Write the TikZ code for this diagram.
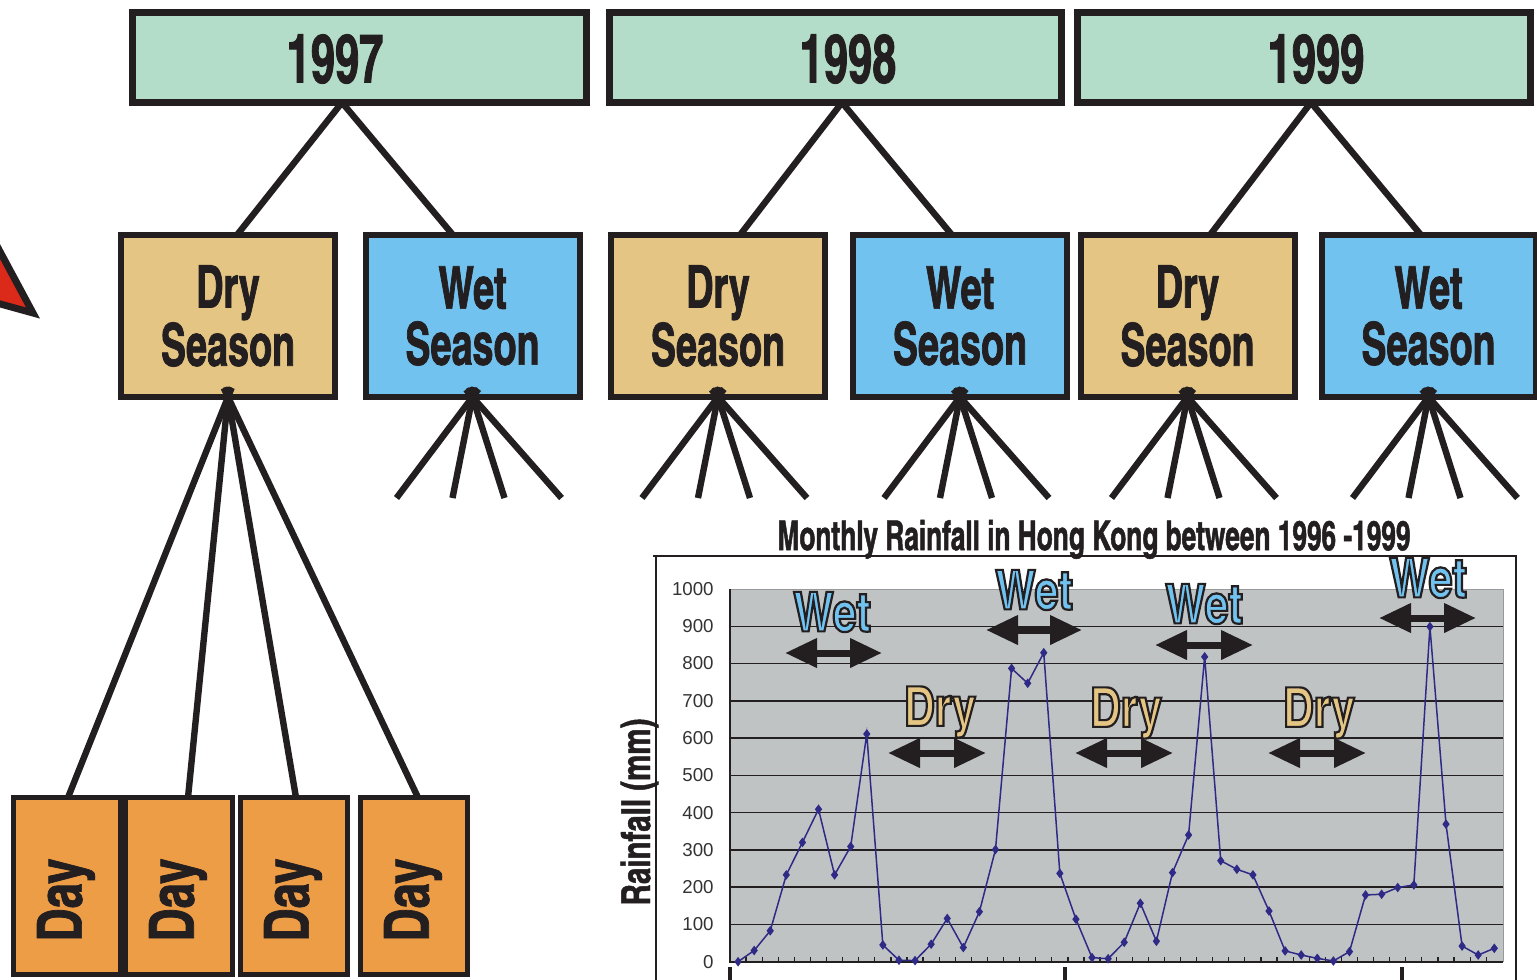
\documentclass[tikz,border=0pt]{standalone}
\usepackage{fontspec}
\usetikzlibrary{arrows.meta,plotmarks}
\setmainfont{Liberation Sans}
\newfontfamily\heavy{texgyreheroscn}[Extension=.otf,UprightFont=*-bold,FakeStretch=0.78,FakeBold=1.2]
\newfontfamily\heavywide{texgyreheroscn}[Extension=.otf,UprightFont=*-bold,FakeStretch=0.9,FakeBold=1.2]
\newfontfamily\outlined{texgyreheroscn}[Extension=.otf,UprightFont=*-bold,FakeStretch=0.95,FakeBold=4]
\definecolor{ink}{HTML}{231F20}
\definecolor{mint}{HTML}{B3DDC8}
\definecolor{drytan}{HTML}{E4C583}
\definecolor{wetblue}{HTML}{72C2F0}
\definecolor{dayorange}{HTML}{EE9D47}
\definecolor{plotgray}{HTML}{C0C3C4}
\definecolor{rainline}{HTML}{2E2A86}
\definecolor{redtip}{HTML}{DC2A1A}
\tikzset{
  yearbox/.style={draw=ink,line width=3.5pt,fill=mint,minimum width=227pt,minimum height=45pt,inner sep=0pt,outer sep=0pt},
  yeartext/.style={text=ink,font=\heavy\fontsize{34}{34}\selectfont,inner sep=0pt},
  seasonbox/.style={draw=ink,line width=3pt,minimum width=107pt,minimum height=81pt,inner sep=0pt,outer sep=0pt,
    align=center,text=ink,font=\heavy\fontsize{29.5}{28}\selectfont},
  drybox/.style={seasonbox,fill=drytan},
  wetbox/.style={seasonbox,fill=wetblue},
  daybox/.style={draw=ink,line width=2.5pt,fill=dayorange,minimum width=53.5pt,minimum height=88.5pt,inner sep=0pt,outer sep=0pt},
  daytext/.style={rotate=90,text=ink,font=\heavywide\fontsize{31}{31}\selectfont,inner sep=0pt},
  link/.style={draw=ink,line width=3.2pt},
  fan/.style={link,shorten <=-5pt},
  span/.style={draw=ink,line width=3.5pt,{Triangle[length=16pt,width=14pt]}-{Triangle[length=16pt,width=14pt]}},
  wetlabel/.style={font=\outlined\fontsize{27.5}{27.5}\selectfont,inner sep=0pt},
  ticklabel/.style={anchor=east,text=black!80,font=\fontsize{9.35}{10}\selectfont,inner sep=0pt},
  gridpen/.style={draw=ink,line width=0.75pt}
}
\newcommand{\edged}[2]{\textcolor{#1}{\special{pdf:literal direct 0.137 0.122 0.125 RG}#2}}
\begin{document}
\begin{tikzpicture}[x=0.5pt,y=-0.5pt]
\useasboundingbox (0,0) rectangle (1537,980);
\clip (0,0) rectangle (1537,980);

\filldraw[fill=redtip,draw=ink,line width=3.5pt] (-25,205) -- (33,313) -- (-25,297) -- cycle;

\node[yearbox] (y97) at (359,57.5) {};
\node[yearbox,minimum width=226pt] (y98) at (835.5,57.5) {};
\node[yearbox,minimum width=226.5pt] (y99) at (1304,57.5) {};
\node[yeartext] (t97) at (335,59) {1997};
\node[yeartext] (t98) at (848,59) {1998};
\node[yeartext] (t99) at (1316,59) {1999};

\node[drybox] (d97) at (228,316) {Dry\\Season};
\node[wetbox] (w97) at (472.5,316) {Wet\\Season};
\node[drybox] (d98) at (718,316) {Dry\\Season};
\node[wetbox] (w98) at (960,316) {Wet\\Season};
\node[drybox] (d99) at (1187.5,316) {Dry\\Season};
\node[wetbox] (w99) at (1428.5,316) {Wet\\Season};

\draw[link] ([xshift=-8.5pt]y97.south) -- ([xshift=4.5pt]d97.north);
\draw[link] ([xshift=-8.5pt]y97.south) -- ([xshift=-9.75pt]w97.north);
\draw[link] ([xshift=3.25pt]y98.south) -- ([xshift=11pt]d98.north);
\draw[link] ([xshift=3.25pt]y98.south) -- ([xshift=-4pt]w98.north);
\draw[link] ([xshift=3.5pt]y99.south) -- ([xshift=11.25pt]d99.north);
\draw[link] ([xshift=3.5pt]y99.south) -- ([xshift=-3.75pt]w99.north);

\node[daybox] (day1) at (67,886) {};
\node[daybox] (day2) at (179,886) {};
\node[daybox] (day3) at (294,886) {};
\node[daybox] (day4) at (414,886) {};
\node[daytext] (dt1) at (66,900) {Day};
\node[daytext] (dt2) at (178,900) {Day};
\node[daytext] (dt3) at (293,900) {Day};
\node[daytext] (dt4) at (413,900) {Day};

\draw[fan] (d97.south) -- ([xshift=0.5pt]day1.north);
\draw[fan] (d97.south) -- ([xshift=4.5pt]day2.north);
\draw[fan] (d97.south) -- ([xshift=1pt]day3.north);
\draw[fan] (d97.south) -- ([xshift=2pt]day4.north);
\foreach \s in {w97,d98,w98,d99,w99}
  \foreach \dx [count=\k] in {-76,-20,32,89} {
    \coordinate (\s-\k) at ([shift={(\dx,101)}]\s.south);
    \draw[fan] (\s.south) -- (\s-\k);
  }

% rainfall chart
\draw[draw=ink,line width=0.75pt] (653,556) -- (1516,556) -- (1516,990);
\draw[draw=ink,line width=0.75pt] (656,556) -- (656,990);
\node[anchor=base,text=ink,font=\heavy\fontsize{20.5}{20}\selectfont,inner sep=0pt] (title) at (1094,550)
  {Monthly Rainfall in Hong Kong between 1996 -1999};
\node[anchor=base,rotate=90,text=ink,font=\heavywide\fontsize{20}{20}\selectfont,inner sep=0pt] (ytitle) at (650,812)
  {Rainfall (mm)};
\fill[plotgray] (730,589) rectangle (1503,962);
\draw[black!40,line width=0.5pt] (730,589) -- (1503,589) -- (1503,962);
\foreach \v in {1,...,9}
  \draw[gridpen] (730,{961.7-37.27*\v}) -- (1503,{961.7-37.27*\v});
\foreach \v [evaluate=\v as \lab using int(100*\v)] in {0,...,10}
  \node[ticklabel] (yl\v) at (714,{961.7-37.27*\v}) {\lab};
\draw[draw=ink,line width=1pt] (730,589) -- (730,962) -- (1503,962);
\foreach \k in {1,...,47}
  \draw[draw=ink,line width=0.6pt] ({730+16.09*\k},962) -- ++(0,-5);
\foreach \xx in {730,1065,1402}
  \draw[draw=ink,line width=2pt] (\xx,967) -- (\xx,990);

\begin{scope}[shift={(730,961.7)},x=8.045pt,y=0.18635pt]
\draw[rainline,line width=0.75pt,mark=diamond*,mark size=1.8pt,mark options={fill=rainline,draw=rainline}] plot coordinates {
 (0.5,0) (1.5,30) (2.5,83) (3.5,233) (4.5,320) (5.5,409) (6.5,233) (7.5,309)
 (8.5,611) (9.5,45) (10.5,4) (11.5,3) (12.5,47) (13.5,116) (14.5,38) (15.5,134)
 (16.5,301) (17.5,787) (18.5,747) (19.5,829) (20.5,237) (21.5,114) (22.5,11) (23.5,8)
 (24.5,52) (25.5,157) (26.5,55) (27.5,239) (28.5,340) (29.5,818) (30.5,271) (31.5,248)
 (32.5,233) (33.5,136) (34.5,29) (35.5,18) (36.5,9) (37.5,2) (38.5,27) (39.5,179)
 (40.5,181) (41.5,199) (42.5,206) (43.5,899) (44.5,369) (45.5,42) (46.5,18) (47.5,36)};
\end{scope}

\node[wetlabel] (wet1) at (832,612) {\edged{wetblue}{Wet}};
\node[wetlabel] (wet2) at (1034,590) {\edged{wetblue}{Wet}};
\node[wetlabel] (wet3) at (1204,604) {\edged{wetblue}{Wet}};
\node[wetlabel] (wet4) at (1428,578) {\edged{wetblue}{Wet}};
\node[wetlabel] (dry1) at (940,712) {\edged{drytan}{Dry}};
\node[wetlabel] (dry2) at (1126,713) {\edged{drytan}{Dry}};
\node[wetlabel] (dry3) at (1319,713) {\edged{drytan}{Dry}};
\draw[span] (785,653) -- (882,653);
\draw[span] (986,630) -- (1082,630);
\draw[span] (1155,645) -- (1253,645);
\draw[span] (1379,618) -- (1476,618);
\draw[span] (888,753) -- (986,753);
\draw[span] (1075,753) -- (1173,753);
\draw[span] (1268,753) -- (1366,753);
\end{tikzpicture}
\end{document}
